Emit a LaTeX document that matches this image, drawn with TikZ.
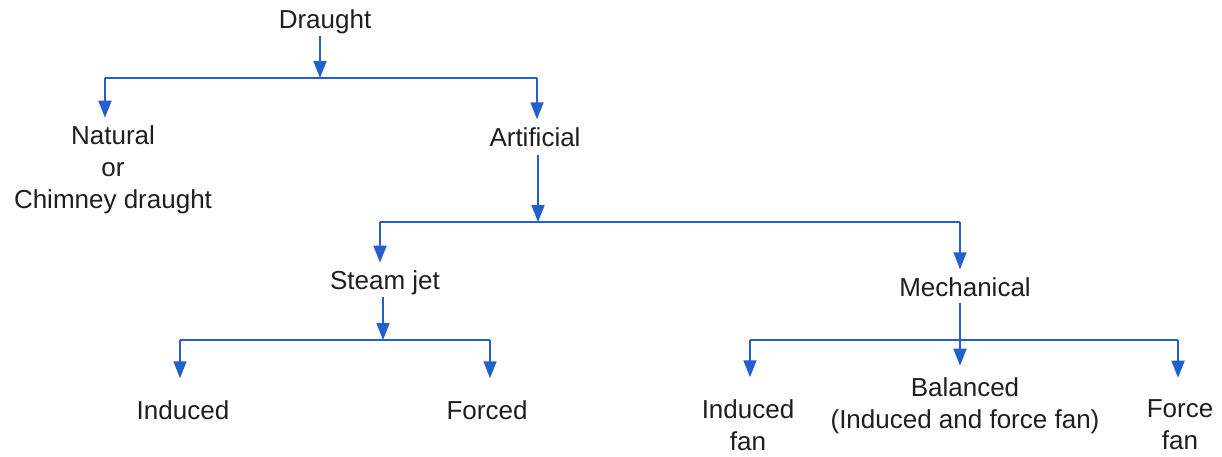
\documentclass[tikz,border=0pt]{standalone}
\usepackage{fontspec}
\setmainfont{Liberation Sans}
\usetikzlibrary{arrows.meta,calc}
\definecolor{arrowblue}{RGB}{35,95,205}
\definecolor{txt}{RGB}{30,30,30}
\begin{document}
\begin{tikzpicture}[x=1pt,y=1pt,
  lbl/.style={font=\fontsize{26}{32}\selectfont, text=txt, align=center, inner sep=2pt},
  conn/.style={draw=arrowblue, line width=1.7pt},
  arr/.style={conn, -{Triangle[length=17pt,width=13pt]}, shorten >=6pt},
  arrlow/.style={arr, shorten >=20pt}]
\useasboundingbox (0,0) rectangle (1222,-456);
\fill[white] (0,0) rectangle (1222,-456);
% nodes
\node[lbl] (draught) at (325,-22) {Draught};
\node[lbl] (natural) at (113,-170) {Natural\\or\\Chimney draught};
\node[lbl] (artificial) at (535,-137) {Artificial};
\node[lbl] (steam) at (385,-283) {Steam jet};
\node[lbl] (mech) at (965,-287) {Mechanical};
\node[lbl] (induced) at (183,-410) {Induced};
\node[lbl] (forced) at (487,-410) {Forced};
\node[lbl] (ifan) at (748,-425) {Induced\\fan};
\node[lbl] (balanced) at (965,-406) {Balanced\\(Induced and force fan)};
\node[lbl] (ffan) at (1180,-425) {Force\\fan};
% junctions
\coordinate (j1) at (320,-78);
\coordinate (h1l) at (105,-78);
\coordinate (h1r) at (537,-78);
\coordinate (j2) at (538,-222);
\coordinate (h2l) at (380,-222);
\coordinate (h2r) at (960,-222);
\coordinate (j3) at (383,-340);
\coordinate (h3l) at (180,-340);
\coordinate (h3r) at (490,-340);
\coordinate (h4l) at (750,-340);
\coordinate (h4m) at (960,-340);
\coordinate (h4r) at (1178,-340);
% connectors
\draw[arr, shorten >=0pt] (draught.south -| j1) -- (j1);
\draw[conn] (h1l) -- (h1r);
\draw[arr] (h1l) -- (h1l |- natural.north);
\draw[arr] (h1r) -- (h1r |- artificial.north);
\draw[arr, shorten >=0pt] ($(artificial.south -| j2)+(0,-6)$) -- (j2);
\draw[conn] (h2l) -- (h2r);
\draw[arr] (h2l) -- (h2l |- steam.north);
\draw[arr] (h2r) -- (h2r |- mech.north);
\draw[arr, shorten >=0pt] (steam.south -| j3) -- (j3);
\draw[conn] (h3l) -- (h3r);
\draw[arrlow] (h3l) -- (h3l |- induced.north);
\draw[arrlow] (h3r) -- (h3r |- forced.north);
\draw[conn] (h4l) -- (h4r);
\draw[arrlow, shorten >=10pt] ($(mech.south -| h4m)+(0,-4)$) -- (h4m |- balanced.north);
\draw[arrlow] (h4l) -- (h4l |- ifan.north);
\draw[arrlow] (h4r) -- (h4r |- ffan.north);
\end{tikzpicture}
\end{document}
